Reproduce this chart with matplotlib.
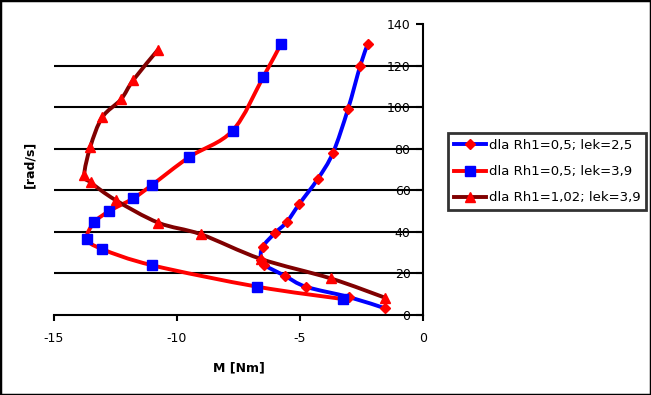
import numpy as np
import matplotlib
matplotlib.use("Agg")
import matplotlib.pyplot as plt
from matplotlib.path import Path
from matplotlib.patches import PathPatch, Rectangle
from matplotlib.lines import Line2D

plt.rcParams["font.family"] = ["DejaVu Sans"]

# series (M [Nm], omega [rad/s])
m_rh05_lek25 = [-1.54, -3.0, -4.76, -5.61, -6.45, -6.6, -6.52, -6.02, -5.54, -5.03, -4.28, -3.66, -3.05, -2.55, -2.25]
w_rh05_lek25 = [3.2, 8.6, 13.6, 18.8, 24.0, 26.5, 32.7, 39.4, 44.7, 53.4, 65.4, 78.0, 99.0, 120.0, 130.2]

m_rh05_lek39 = [-3.27, -6.73, -11.0, -13.04, -13.66, -13.36, -12.75, -11.78, -11.0, -9.5, -7.74, -6.49, -5.78]
w_rh05_lek39 = [7.7, 13.6, 23.9, 31.7, 36.7, 44.6, 50.0, 56.1, 62.7, 76.0, 88.7, 114.6, 130.2]

m_rh102_lek39 = [-1.54, -3.75, -6.6, -9.02, -10.76, -12.5, -13.51, -13.77, -13.52, -13.04, -12.28, -11.78, -10.78]
w_rh102_lek39 = [8.3, 17.6, 27.0, 38.8, 44.4, 55.3, 63.8, 67.3, 81.0, 95.1, 103.7, 113.0, 127.5]

labels = ["dla Rh1=0,5; lek=2,5", "dla Rh1=0,5; lek=3,9", "dla Rh1=1,02; lek=3,9"]
xticks = [-15, -10, -5, 0]
yticks = [0, 20, 40, 60, 80, 100, 120, 140]


def smooth_path(xs, ys):
    # excel-like smoothed line: cubic bezier through the points
    pts = np.column_stack([xs, ys]).astype(float)
    n = len(pts)
    verts = [pts[0]]
    codes = [Path.MOVETO]
    for i in range(n - 1):
        p0 = pts[max(i - 1, 0)]
        p1 = pts[i]
        p2 = pts[i + 1]
        p3 = pts[min(i + 2, n - 1)]
        verts += [p1 + (p2 - p0) / 6.0, p2 - (p3 - p1) / 6.0, p2]
        codes += [Path.CURVE4] * 3
    return Path(verts, codes)


fig = plt.figure(figsize=(6.51, 3.95), dpi=100)
ax = fig.add_axes([54 / 651, 80 / 395, 369 / 651, 291 / 395])

series = [
    (m_rh05_lek25, w_rh05_lek25, "#0000ff", "D", 5.5),
    (m_rh05_lek39, w_rh05_lek39, "#ff0000", "s", 6.5),
    (m_rh102_lek39, w_rh102_lek39, "#800000", "^", 7.0),
]
marker_colors = ["#ff0000", "#0000ff", "#ff0000"]

handles = []
for (xs, ys, col, mk, ms), mcol, lab in zip(series, marker_colors, labels):
    patch = PathPatch(smooth_path(xs, ys), facecolor="none", edgecolor=col,
                      lw=2.8, capstyle="round", joinstyle="round", zorder=3)
    ax.add_patch(patch)
    ax.plot(xs, ys, ls="none", marker=mk, ms=ms, mfc=mcol, mec=mcol, zorder=4)
    handles.append(Line2D([], [], color=col, lw=2.8, marker=mk, ms=ms, mfc=mcol, mec=mcol, label=lab))

ax.set_xlim(-15, 0)
ax.set_ylim(0, 140)
ax.set_axisbelow(True)
for t in yticks[1:-1]:
    ax.axhline(t, color="black", lw=1.5, zorder=1)

for s in ["left", "top"]:
    ax.spines[s].set_visible(False)
for s in ["right", "bottom"]:
    ax.spines[s].set_linewidth(1.5)
    ax.spines[s].set_color("black")

ax.set_xticks(xticks)
ax.set_xticklabels([str(t) for t in xticks])
ax.set_yticks(yticks)
ax.set_yticklabels([str(t) for t in yticks])
ax.tick_params(axis="x", direction="out", length=4, width=1.5, labelsize=9, pad=8.5)
ax.tick_params(axis="y", direction="in", length=5, width=1.5, labelsize=9,
               left=False, right=True, labelleft=False, labelright=True, pad=-9)
for lbl in ax.get_yticklabels():
    lbl.set_ha("right")

ax.set_xlabel("M [Nm]", fontsize=9, fontweight="bold")
ax.xaxis.set_label_coords(0.5, -0.158)
ax.yaxis.set_label_position("left")
ax.set_ylabel("[rad/s]", fontsize=9, fontweight="bold")
ax.yaxis.set_label_coords(-0.048, 0.517)

leg = fig.legend(handles=handles, loc="upper left", bbox_to_anchor=(448 / 651, 1 - 133 / 395),
                 fontsize=9.5, frameon=True, fancybox=False, edgecolor="black",
                 handlelength=2.4, handletextpad=0.23, labelspacing=1.0,
                 borderpad=0.45, borderaxespad=0)
leg.get_frame().set_linewidth(2)

fig.patches.append(Rectangle((0, 0), 1, 1, transform=fig.transFigure, fill=False,
                             edgecolor="black", lw=2.5, clip_on=False))

fig.savefig("out.png", dpi=100)
